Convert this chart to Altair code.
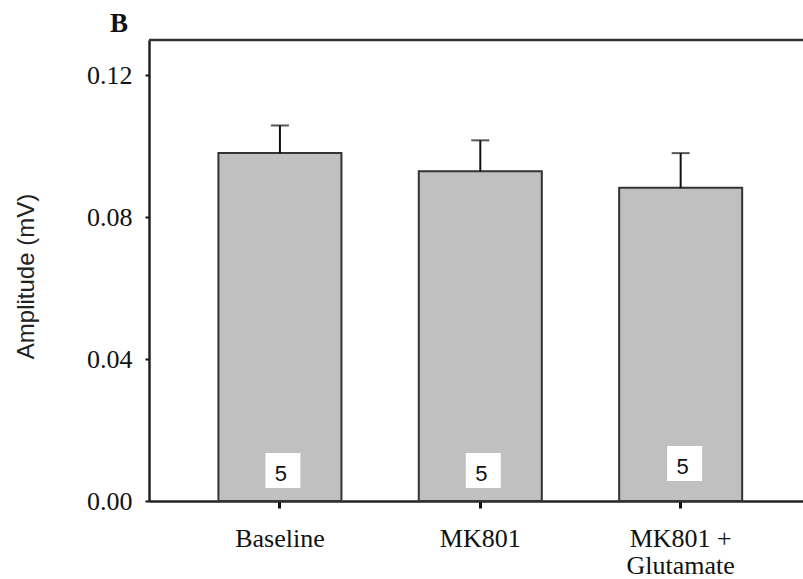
import altair as alt
import pandas as pd

categories = ["Baseline", "MK801", "MK801 + Glutamate"]
means = [0.0981, 0.0930, 0.0883]
sems = [0.0078, 0.0087, 0.0098]
n_counts = ["5", "5", "5"]

df = pd.DataFrame({
    "cond": categories,
    "mean": means,
    "upper": [m + s for m, s in zip(means, sems)],
    "n": n_counts,
})

W, H = 654, 461

xscale = alt.Scale(paddingInner=0.386, paddingOuter=0.325, align=0.533)
yscale = alt.Scale(domain=[0, 0.13], nice=False, zero=True)

x_enc = alt.X(
    "cond:N", sort=categories, scale=xscale, title=None,
    axis=alt.Axis(
        labelAngle=0, labelFont="Liberation Serif", labelFontSize=26,
        labelColor="#111", labelPadding=17, tickSize=7, tickWidth=3,
        tickColor="#111", domainColor="#222", domainWidth=2.5,
        labelLineHeight=27,
        labelExpr="datum.label == 'MK801 + Glutamate' ? ['MK801 +', 'Glutamate'] : datum.label",
    ),
)
y_enc = alt.Y(
    "mean:Q", scale=yscale, title="Amplitude (mV)",
    axis=alt.Axis(
        values=[0, 0.04, 0.08, 0.12], format=".2f", grid=False,
        labelFont="Liberation Serif", labelFontSize=26, labelColor="#111",
        labelPadding=13, tickSize=4, tickWidth=2, tickColor="#111",
        domainColor="#222", domainWidth=2.5,
        titleFont="Liberation Sans", titleFontSize=24, titleFontWeight="normal",
        titleColor="#222", titleAngle=-90, titleX=-123, titleY=236,
        titleAlign="center", titleBaseline="middle",
    ),
)

base = alt.Chart(df)

bars = base.mark_bar(fill="#c0c0c0", stroke="#333", strokeWidth=2).encode(
    x=x_enc, y=y_enc
)
err = base.mark_rule(color="#111", strokeWidth=2).encode(
    x=alt.X("cond:N", sort=categories), y="mean:Q", y2="upper:Q"
)
cap = base.mark_tick(color="#111", thickness=2, size=18).encode(
    x=alt.X("cond:N", sort=categories), y="upper:Q"
)

box_lo = base.transform_filter(alt.datum.cond != "MK801 + Glutamate").mark_square(
    size=1225, fill="white", opacity=1, stroke=None, yOffset=-30.5, xOffset=3
).encode(x=alt.X("cond:N", sort=categories), y=alt.datum(0))
box_hi = base.transform_filter(alt.datum.cond == "MK801 + Glutamate").mark_square(
    size=1225, fill="white", opacity=1, stroke=None, yOffset=-37.5, xOffset=4
).encode(x=alt.X("cond:N", sort=categories), y=alt.datum(0))

txt_lo = base.transform_filter(alt.datum.cond != "MK801 + Glutamate").mark_text(
    font="Liberation Sans", fontSize=22, color="#111", baseline="middle",
    yOffset=-27, xOffset=1
).encode(x=alt.X("cond:N", sort=categories), y=alt.datum(0), text="n:N")
txt_hi = base.transform_filter(alt.datum.cond == "MK801 + Glutamate").mark_text(
    font="Liberation Sans", fontSize=22, color="#111", baseline="middle",
    yOffset=-34, xOffset=2
).encode(x=alt.X("cond:N", sort=categories), y=alt.datum(0), text="n:N")

frame_top = alt.Chart(pd.DataFrame({"a": [0]})).mark_rule(
    color="#333", strokeWidth=2.5
).encode(x=alt.value(0), x2=alt.value(W), y=alt.value(0))

panel = alt.Chart(pd.DataFrame({"t": ["B"]})).mark_text(
    font="Liberation Serif", fontSize=27, fontWeight="bold", color="#111",
    baseline="alphabetic", align="center"
).encode(x=alt.value(-30), y=alt.value(-8), text="t:N")

chart = alt.layer(
    bars, err, cap, box_lo, box_hi, txt_lo, txt_hi, frame_top, panel
).properties(
    width=W, height=H,
    autosize=alt.AutoSizeParams(type="none"),
    padding={"left": 149, "top": 40, "right": 0, "bottom": 78},
).configure_view(stroke=None).configure(background="white")

chart.save("out.html", embed_options={"renderer": "svg", "actions": False})
